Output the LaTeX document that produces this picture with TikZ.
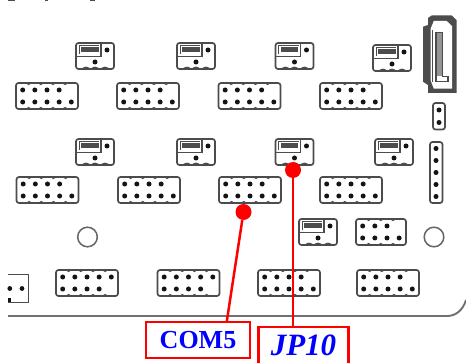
\documentclass[tikz,border=0pt]{standalone}
\usepackage{fontspec}
\setmainfont{Liberation Serif}
\definecolor{ink}{gray}{0.3}
\definecolor{pinc}{gray}{0.08}
\definecolor{labelblue}{RGB}{0,0,255}
\tikzset{
  board/.style={draw=ink,line width=1.7pt,rounded corners=2.5pt},
  scal/.style={draw=ink,line width=1.3pt},
  pinpt/.style={fill=pinc},
  hole/.style={draw=ink!85,line width=1.5pt,fill=white},
  reddot/.style={circle,fill=red,inner sep=0pt,minimum size=16pt},
  redline/.style={draw=red,line width=2.5pt},
  tag/.style={draw=red,line width=2.5pt,fill=white,inner sep=0pt,text=labelblue}
}
% x, y, width, segments, top pins, bottom pins
\newcommand\pinhdr[6]{%
  \draw[board] (#1,#2) rectangle ++(#3,26);
  \foreach \i in {1,...,#4}{
    \draw[scal] ({#1+0.5+12.15*\i-2.2},{#2+26}) .. controls ({#1+0.5+12.15*\i},{#2+24.2}) .. ({#1+0.5+12.15*\i+2.2},{#2+26});
    \draw[scal] ({#1+0.5+12.15*\i-2.2},{#2}) .. controls ({#1+0.5+12.15*\i},{#2+1.8}) .. ({#1+0.5+12.15*\i+2.2},{#2});
  }
  \foreach \i in {#5} \fill[pinpt] ({#1+6.7+12.15*\i},{#2+7}) circle (2.5);
  \foreach \i in {#6} \fill[pinpt] ({#1+6.7+12.15*\i},{#2+19}) circle (2.5);
}
% x, y
\newcommand\jumper[2]{%
  \draw[board] (#1,#2) rectangle ++(38,26);
  \draw[draw=ink,line width=1.4pt] (#1,{#2+13.5}) -- ({#1+25},{#2+13.5}) -- ({#1+25},#2);
  \fill[ink] ({#1+5},{#2+4.5}) rectangle ({#1+22.5},{#2+9.5});
  \draw[ink,line width=1pt] ({#1+3},{#2+11}) -- ({#1+3},{#2+2.5}) -- ({#1+23},{#2+2.5});
  \draw[scal] ({#1+15},{#2+26}) .. controls ({#1+19},{#2+23.8}) .. ({#1+23},{#2+26});
  \draw[scal] ({#1+6},{#2+26}) .. controls ({#1+10},{#2+23.8}) .. ({#1+14},{#2+26});
  \draw[scal] ({#1+25},{#2+26}) .. controls ({#1+29},{#2+23.8}) .. ({#1+33},{#2+26});
  \fill[pinpt] ({#1+31},{#2+7}) circle (2.5);
  \fill[pinpt] ({#1+19},{#2+19}) circle (2.5);
}
\begin{document}
\begin{tikzpicture}[x=1pt,y=-1pt]
\useasboundingbox (0,0) rectangle (466,363);
\fill[white] (0,0) rectangle (466,363);
% cropped marks at the top edge
\fill[ink] (8,0) rectangle (15,1.2);
\fill[ink] (45,0) rectangle (48,1.2);
\fill[ink] (90,0) rectangle (95,1.2);
% board edge
\draw[draw=ink!80,line width=1.9pt] (8,316) -- (447,316) .. controls (456,316) and (463,310) .. (466,300);
% jumpers
\jumper{76}{43}\jumper{177}{43}\jumper{275.5}{43}\jumper{373}{45}
\jumper{76}{139}\jumper{177}{139}\jumper{275.5}{139}\jumper{375}{139}
\jumper{299}{219}
% headers
\foreach \x in {16,117,218.5,320}{\pinhdr{\x}{83}{62}{4}{0,1,2,3}{0,1,2,3,4}}
\foreach \x in {16.5,118,219,320}{\pinhdr{\x}{177}{62}{4}{0,1,2,3}{0,1,2,3,4}}
\pinhdr{56}{270}{62}{4}{0,1,2,3,4}{0,1,2,3}
\pinhdr{157.5}{270}{62}{4}{0,1,2,3,4}{0,1,2,3}
\pinhdr{258}{270}{62}{4}{0,1,2,3}{0,1,2,3,4}
\pinhdr{357}{270}{62}{4}{0,1,2,3}{0,1,2,3,4}
\pinhdr{356}{219}{50}{3}{0,1,2}{0,1,2,3}
% holes
\draw[hole] (87.5,237) circle (9.8);
\draw[hole] (434,237) circle (9.8);
% cropped connector at the left
\draw[draw=ink,line width=1.7pt] (8,274.5) -- (28.5,274.5) -- (28.5,302.5) -- (8,302.5);
\fill[pinpt] (9.8,288.5) circle (2.4);
\fill[pinpt] (22,288.5) circle (2.4);
\fill[pinpt] (8,298.5) rectangle (11,302);
% SATA connector
\fill[ink] (431.7,15.5) -- (451.7,15.5) -- (456.5,20) -- (456.5,93) -- (428,93) -- (428,85) -- (423,81.7) -- (423,26.7) -- (428,25) -- (428,18) -- cycle;
\fill[white] (430.5,29) -- (433.8,21) -- (446.7,21) -- (452,26) -- (452,88.7) -- (433.8,88.7) -- (430.5,80) -- cycle;
\draw[ink,line width=1.6pt] (436,32.5) -- (442.5,32.5) -- (442.5,76.7) -- (448,76.7) -- (448,81.7) -- (436,81.7) -- cycle;
\fill[ink!60] (436.8,33.3) rectangle (441.7,76);
\draw[ink,line width=1.2pt] (432.8,82) -- (432.8,30);
% small vertical headers
\draw[board] (433,103) rectangle (445,129.5);
\fill[pinpt] (439,110) circle (2.5);
\fill[pinpt] (439,122.5) circle (2.5);
\draw[board] (430,142) rectangle (442.5,203);
\foreach \yy in {148.5,160.5,172.5,184.5,196.5}{\fill[pinpt] (436,\yy) circle (2.5);}
% red callouts
\node[reddot] (jpdot) at (293,170) {};
\node[reddot] (comdot) at (243.5,212) {};
\node[tag,minimum width=104pt,minimum height=36pt,font=\fontsize{26}{26}\selectfont\bfseries] (comlabel) at (198,340) {COM5};
\node[tag,minimum width=90pt,minimum height=37pt,font=\fontsize{31}{31}\selectfont\bfseries\itshape] (jplabel) at (303.5,345.5) {JP10};
\coordinate (comend) at (226.7,322);
\draw[redline] (comdot) -- (comend);
\draw[redline] (jpdot) -- (jpdot |- jplabel.north);
\end{tikzpicture}
\end{document}
